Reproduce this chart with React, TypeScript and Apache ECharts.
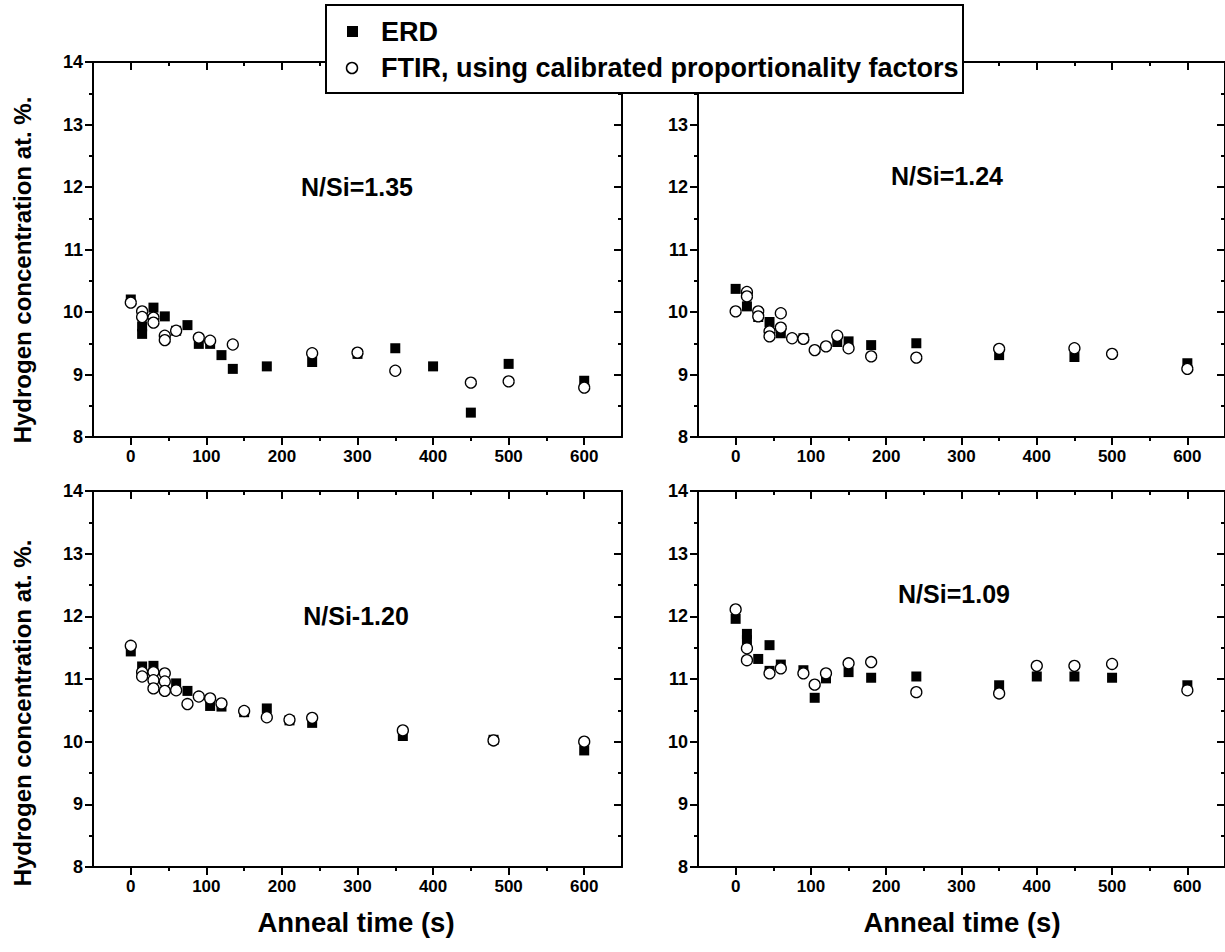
import React, { useEffect, useRef } from "react";
import * as echarts from "echarts";

// ---- data ----
const xTickValues = [0, 100, 200, 300, 400, 500, 600];
const xMinorTickValues = [50, 150, 250, 350, 450, 550];
const panelLabels = ["N/Si=1.35", "N/Si=1.24", "N/Si-1.20", "N/Si=1.09"];
const legendNames = ["ERD", "FTIR, using calibrated proportionality factors"];
const xTitle = "Anneal time (s)";
const yTitle = "Hydrogen concentration at. %.";

// N/Si = 1.35
const erdA_t = [0, 15, 15, 30, 45, 60, 75, 90, 105, 120, 135, 180, 240, 300, 350, 400, 450, 500, 600];
const erdA_v = [10.2, 9.77, 9.65, 10.07, 9.93, 9.7, 9.79, 9.49, 9.49, 9.31, 9.09, 9.13, 9.2, 9.33, 9.42, 9.13, 8.39, 9.17, 8.9];
const ftirA_t = [0, 15, 15, 30, 30, 45, 45, 60, 90, 105, 135, 240, 300, 350, 450, 500, 600];
const ftirA_v = [10.15, 10.01, 9.92, 9.91, 9.83, 9.62, 9.55, 9.7, 9.59, 9.54, 9.48, 9.34, 9.35, 9.06, 8.87, 8.89, 8.79];

// N/Si = 1.24
const erdB_t = [0, 15, 30, 45, 60, 90, 135, 150, 180, 240, 350, 450, 600];
const erdB_v = [10.37, 10.09, 9.92, 9.84, 9.66, 9.58, 9.52, 9.53, 9.47, 9.5, 9.31, 9.28, 9.18];
const ftirB_t = [0, 15, 15, 30, 30, 45, 45, 60, 60, 75, 90, 105, 120, 135, 150, 180, 240, 350, 450, 500, 600];
const ftirB_v = [10.01, 10.32, 10.25, 10.01, 9.93, 9.69, 9.61, 9.98, 9.75, 9.58, 9.57, 9.39, 9.45, 9.62, 9.42, 9.29, 9.27, 9.41, 9.42, 9.33, 9.09];

// N/Si = 1.20
const erdC_t = [0, 15, 30, 60, 75, 105, 120, 150, 180, 210, 240, 360, 480, 600];
const erdC_v = [11.44, 11.2, 11.21, 10.93, 10.81, 10.57, 10.56, 10.47, 10.53, 10.34, 10.3, 10.09, 10.03, 9.86];
const ftirC_t = [0, 15, 15, 30, 30, 30, 45, 45, 45, 60, 75, 90, 105, 120, 150, 180, 210, 240, 360, 480, 600];
const ftirC_v = [11.53, 11.11, 11.04, 11.11, 10.98, 10.85, 11.09, 10.96, 10.81, 10.82, 10.6, 10.72, 10.69, 10.61, 10.49, 10.39, 10.35, 10.38, 10.18, 10.02, 10.0];

// N/Si = 1.09
const erdD_t = [0, 15, 15, 30, 45, 45, 60, 90, 105, 120, 150, 180, 240, 350, 400, 450, 500, 600];
const erdD_v = [11.96, 11.72, 11.62, 11.32, 11.54, 11.13, 11.23, 11.14, 10.7, 11.01, 11.11, 11.02, 11.04, 10.9, 11.04, 11.04, 11.02, 10.9];
const ftirD_t = [0, 15, 15, 45, 60, 90, 105, 120, 150, 180, 240, 350, 400, 450, 500, 600];
const ftirD_v = [12.11, 11.49, 11.3, 11.09, 11.17, 11.09, 10.91, 11.09, 11.25, 11.27, 10.79, 10.77, 11.21, 11.21, 11.24, 10.82];

const panelsData = [
  { erdT: erdA_t, erdV: erdA_v, ftirT: ftirA_t, ftirV: ftirA_v },
  { erdT: erdB_t, erdV: erdB_v, ftirT: ftirB_t, ftirV: ftirB_v },
  { erdT: erdC_t, erdV: erdC_v, ftirT: ftirC_t, ftirV: ftirC_v },
  { erdT: erdD_t, erdV: erdD_v, ftirT: ftirD_t, ftirV: ftirD_v },
];

// ---- layout ----
const FONT = "'Liberation Sans', Arial, sans-serif";
const GW = 529;
const gridPos = [
  { left: 93, top: 62, height: 375 },
  { left: 698, top: 62, height: 375 },
  { left: 93, top: 491, height: 376 },
  { left: 698, top: 491, height: 376 },
];
const labelPos = [
  { x: 357, y: 187 },
  { x: 947, y: 176 },
  { x: 356, y: 616 },
  { x: 954, y: 594 },
];
// tick label hidden behind the legend box (top-right panel, value 14)
const hiddenTopLabel = [false, true, false, false];

const zip = (a: number[], b: number[]) => a.map((v, i) => [v, b[i]]);

function buildOption() {
  const grid: any[] = [];
  const xAxis: any[] = [];
  const yAxis: any[] = [];
  const series: any[] = [];
  const line = { show: true, onZero: false, lineStyle: { color: "#000", width: 2 } };
  const tickStyle = { color: "#000", width: 2 };
  const labelStyle = { color: "#000", fontSize: 18, fontWeight: "bold", fontFamily: FONT };
  const MAJ = 8;
  const MIN = 4;

  gridPos.forEach((g, i) => {
    grid.push({ left: g.left, top: g.top, width: GW, height: g.height });
    grid.push({ left: g.left, top: g.top, width: GW, height: g.height });
    const gm = 2 * i;
    const gn = 2 * i + 1;
    xAxis.push({
      type: "value", gridIndex: gm, position: "bottom", min: -50, max: 650,
      axisLine: line,
      axisTick: { show: true, inside: false, length: MAJ, customValues: xTickValues, lineStyle: tickStyle },
      axisLabel: { show: true, customValues: xTickValues, margin: 11, ...labelStyle, fontSize: 17 },
      splitLine: { show: false },
    });
    xAxis.push({
      type: "value", gridIndex: gm, position: "top", min: -50, max: 650,
      axisLine: line,
      axisTick: { show: true, inside: true, length: MAJ, customValues: xTickValues, lineStyle: tickStyle },
      axisLabel: { show: false },
      splitLine: { show: false },
    });
    xAxis.push({
      type: "value", gridIndex: gn, position: "bottom", min: -50, max: 650,
      axisLine: { show: false, onZero: false },
      axisTick: { show: true, inside: false, length: MIN, customValues: xMinorTickValues, lineStyle: tickStyle },
      axisLabel: { show: false },
      splitLine: { show: false },
    });
    xAxis.push({
      type: "value", gridIndex: gn, position: "top", min: -50, max: 650,
      axisLine: { show: false, onZero: false },
      axisTick: { show: true, inside: true, length: MIN, customValues: xMinorTickValues, lineStyle: tickStyle },
      axisLabel: { show: false },
      splitLine: { show: false },
    });
    const hide14 = hiddenTopLabel[i];
    yAxis.push({
      type: "value", gridIndex: gm, position: "left", min: 8, max: 14, interval: 1,
      axisLine: line,
      axisTick: { show: true, inside: false, length: MAJ, lineStyle: tickStyle },
      minorTick: { show: true, splitNumber: 2, length: MIN, lineStyle: tickStyle },
      axisLabel: {
        show: true, margin: 10, ...labelStyle,
        formatter: (v: number) => (hide14 && v === 14 ? "" : String(v)),
      },
      splitLine: { show: false },
      minorSplitLine: { show: false },
    });
    yAxis.push({
      type: "value", gridIndex: gm, position: "right", min: 8, max: 14, interval: 1,
      axisLine: line,
      axisTick: { show: true, inside: true, length: MAJ, lineStyle: tickStyle },
      minorTick: { show: true, splitNumber: 2, length: MIN, lineStyle: tickStyle },
      axisLabel: { show: false },
      splitLine: { show: false },
    });
    yAxis.push({ type: "value", gridIndex: gn, min: 8, max: 14, show: false });

    const d = panelsData[i];
    series.push({
      type: "scatter", name: legendNames[0], xAxisIndex: 4 * i, yAxisIndex: 3 * i,
      data: zip(d.erdT, d.erdV), symbol: "rect", symbolSize: 10,
      itemStyle: { color: "#000", opacity: 1 }, z: 3,
    });
    series.push({
      type: "scatter", name: legendNames[1], xAxisIndex: 4 * i, yAxisIndex: 3 * i,
      data: zip(d.ftirT, d.ftirV), symbol: "circle", symbolSize: 11,
      itemStyle: { color: "#fff", borderColor: "#000", borderWidth: 1.3, opacity: 1 }, z: 4,
    });
  });

  const graphic: any[] = [];
  panelLabels.forEach((t, i) => {
    graphic.push({
      type: "text", x: labelPos[i].x, y: labelPos[i].y, z: 50,
      style: { text: t, font: `bold 25px ${FONT}`, fill: "#000", align: "center", verticalAlign: "middle" },
    });
  });
  [270, 713].forEach((cy) => {
    graphic.push({
      type: "text", x: 22, y: cy, rotation: Math.PI / 2, z: 50,
      style: { text: yTitle, font: `bold 24px ${FONT}`, fill: "#000", align: "center", verticalAlign: "middle" },
    });
  });
  [356, 962].forEach((cx) => {
    graphic.push({
      type: "text", x: cx, y: 922, z: 50,
      style: { text: xTitle, font: `bold 27.5px ${FONT}`, fill: "#000", align: "center", verticalAlign: "middle" },
    });
  });
  graphic.push({
    type: "group", z: 100,
    children: [
      { type: "rect", shape: { x: 326, y: 5, width: 637, height: 88 }, style: { fill: "#fff", stroke: "#000", lineWidth: 2 }, z: 100 },
      { type: "rect", shape: { x: 347, y: 26, width: 11, height: 11 }, style: { fill: "#000" }, z: 101 },
      { type: "circle", shape: { cx: 352, cy: 68, r: 5.5 }, style: { fill: "#fff", stroke: "#000", lineWidth: 1.5 }, z: 101 },
      { type: "text", x: 381, y: 32, z: 101, style: { text: legendNames[0], font: `bold 27px ${FONT}`, fill: "#000", verticalAlign: "middle" } },
      { type: "text", x: 381, y: 68, z: 101, style: { text: legendNames[1], font: `bold 27px ${FONT}`, fill: "#000", verticalAlign: "middle" } },
    ],
  });

  return {
    animation: false,
    backgroundColor: "#fff",
    grid, xAxis, yAxis, series, graphic,
  };
}

export default function App() {
  const ref = useRef<HTMLDivElement>(null);
  useEffect(() => {
    if (!ref.current) return;
    const chart = echarts.init(ref.current, undefined, { renderer: "svg" });
    chart.setOption(buildOption() as any);
    return () => chart.dispose();
  }, []);
  return (
    <div
      ref={ref}
      style={{ position: "absolute", left: 0, top: 0, width: 1225, height: 952, background: "#fff" }}
    />
  );
}
